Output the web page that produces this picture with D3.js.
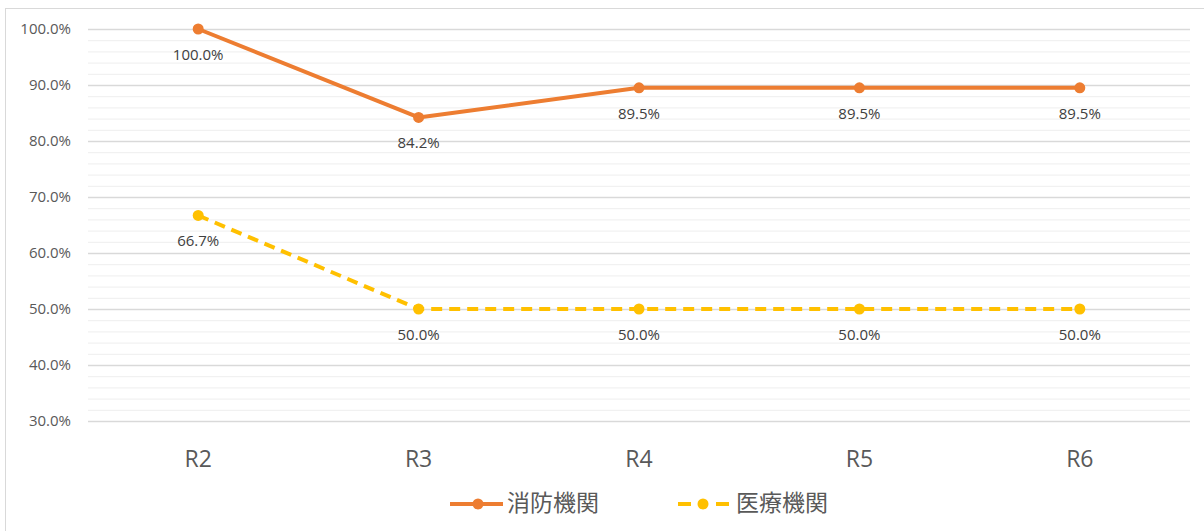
<!DOCTYPE html>
<html><head><meta charset="utf-8">
<script src="https://cdn.jsdelivr.net/npm/d3@7"></script>
<style>
body{margin:0;background:#fff;}
text{font-family:"Open Sans","Noto Sans CJK JP",sans-serif;}
.cjk{font-family:"Noto Sans CJK JP",sans-serif;}
</style></head>
<body><svg id="c" width="1204" height="531"></svg>
<script>
const categories = ["R2","R3","R4","R5","R6"];
const fireValues = [100.0, 84.2, 89.5, 89.5, 89.5];
const medValues = [66.7, 50.0, 50.0, 50.0, 50.0];
const seriesNames = ["消防機関","医療機関"];
const yTicks = [30,40,50,60,70,80,90,100];

const svg = d3.select("#c");
svg.append("rect").attr("x",5.5).attr("y",8.5).attr("width",1210).attr("height",540)
  .attr("fill","#fff").attr("stroke","#d9d9d9");

const x = d3.scaleBand().domain(categories).range([88,1190]);
const y = d3.scaleLinear().domain([30,100]).range([421,29]);

// minor grid
const minor = d3.range(30,100.1,2).filter(v=>v%10!==0);
svg.append("g").selectAll("line").data(minor).join("line")
  .attr("x1",88).attr("x2",1190).attr("y1",d=>y(d)+0.5).attr("y2",d=>y(d)+0.5)
  .attr("stroke","#eeeeee").attr("stroke-width",1);

const yAxis = d3.axisLeft(y).tickValues(yTicks).tickSize(-(1190-88)).tickFormat(d=>d.toFixed(1)+"%");
const gy = svg.append("g").attr("transform","translate(88,0)").call(yAxis);
gy.select(".domain").remove();
gy.selectAll(".tick line").attr("stroke","#d9d9d9").attr("stroke-width",1.3);
gy.selectAll(".tick text").attr("x",-17).attr("fill","#595959").attr("font-size",15)
  .attr("font-family","Open Sans");

const xAxis = d3.axisBottom(x).tickSize(0);
const gx = svg.append("g").attr("transform","translate(0,421)").call(xAxis);
gx.select(".domain").remove();
gx.selectAll(".tick text").attr("dy",0).attr("y",46).attr("fill","#595959").attr("font-size",23)
  .attr("font-family","Open Sans");

const cx = d => x(d)+x.bandwidth()/2;
const line = d3.line().x(d=>cx(d.c)).y(d=>y(d.v));
const series = [
  {name:seriesNames[0], vals:fireValues, color:"#ED7D31", dash:null},
  {name:seriesNames[1], vals:medValues, color:"#FFC000", dash:"11,7"}
];
series.forEach(s=>{
  const pts = categories.map((c,i)=>({c,v:s.vals[i]}));
  svg.append("path").datum(pts).attr("d",line).attr("fill","none")
    .attr("stroke",s.color).attr("stroke-width",4).attr("stroke-dasharray",s.dash)
    .attr("stroke-linejoin","round");
  svg.append("g").selectAll("circle").data(pts).join("circle")
    .attr("cx",d=>cx(d.c)).attr("cy",d=>y(d.v)).attr("r",5.5).attr("fill",s.color);
  svg.append("g").selectAll("text").data(pts).join("text")
    .attr("x",d=>cx(d.c)).attr("y",d=>y(d.v)+31).attr("text-anchor","middle")
    .attr("font-family","Open Sans")
    .attr("fill","#404040").attr("font-size",15).text(d=>d.v.toFixed(1)+"%");
});

// legend
const leg = [{x:450, s:series[0], tx:507},{x:678, s:series[1], tx:736}];
leg.forEach(l=>{
  const g = svg.append("g");
  g.append("line").attr("x1",l.x).attr("x2",l.x+(l.s.dash?51:53)).attr("y1",504).attr("y2",504)
    .attr("stroke",l.s.color).attr("stroke-width",4).attr("stroke-dasharray",l.s.dash? "13,25,13":null);
  g.append("circle").attr("cx",l.x+(l.s.dash?25:28)).attr("cy",504).attr("r",5.5).attr("fill",l.s.color);
  g.append("text").attr("class","cjk").attr("x",l.tx).attr("y",511).attr("fill","#595959")
    .attr("font-size",23).text(l.s.name);
});
</script></body></html>
